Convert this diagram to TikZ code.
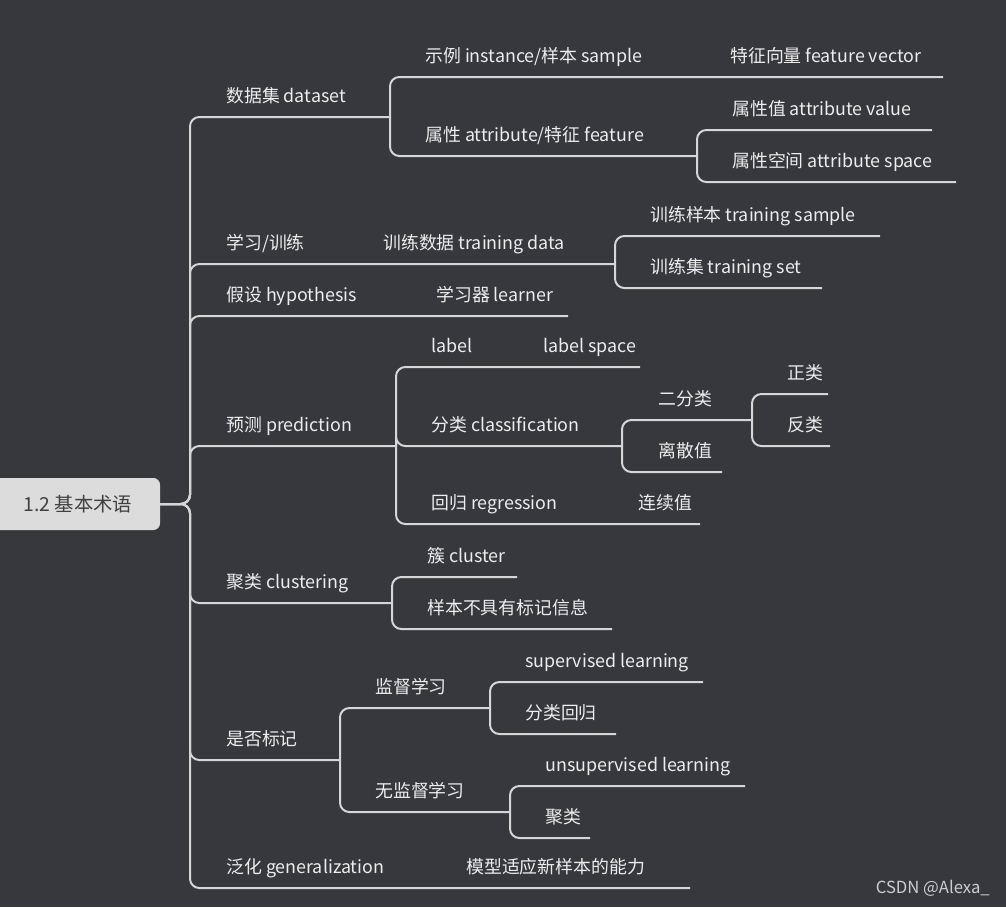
\documentclass[tikz,border=0pt]{standalone}
\usepackage{fontspec}
\setmainfont{Noto Sans CJK SC}
\begin{document}
\begin{tikzpicture}[x=0.75pt,y=-0.75pt,
  ln/.style={draw=lncol,line width=1.5pt,rounded corners=7pt},
  lb/.style={anchor=base west,inner sep=0pt,text=txtcol,font=\fontsize{13.4}{15}\selectfont}]
\definecolor{bgcol}{HTML}{37383D}
\definecolor{lncol}{HTML}{D6D6D6}
\definecolor{txtcol}{HTML}{EDEDED}
\definecolor{rootcol}{HTML}{DCDCDC}
\fill[bgcol] (0,0) rectangle (1006,907);
\useasboundingbox (0,0) rectangle (1006,907);
\newcommand{\br}[4]{\draw[ln] (#1,#2) -- (#1,#3) -- (#4,#3);}
\newcommand{\lbl}[4]{\node[lb] (#1) at (#2,#3-15) {#4};}
% root
\fill[rootcol,rounded corners=5pt] (-10,478) rectangle (160,530);
\node[anchor=center,text=black!75,font=\fontsize{14.5}{16}\selectfont] (root) at (78,504) {1.2 基本术语};
% trunk branches
\foreach \y/\e in {117/390,264/615,316/568,446/396,603/392,760/340,888/690}
  {\draw[ln] (160,504) -- (190,504) -- (190,\y) -- (\e,\y);}
% dataset
\br{390}{117}{77}{943}
\br{390}{117}{156}{697}
\br{697}{156}{130}{932}
\br{697}{156}{182}{956}
% learning
\br{615}{264}{236}{880}
\br{615}{264}{288}{822}
% prediction
\br{396}{446}{367}{640}
\br{396}{446}{446}{622}
\br{396}{446}{524}{700}
\br{622}{446}{420}{752}
\br{622}{446}{472}{722}
\br{752}{420}{394}{828}
\br{752}{420}{446}{830}
% clustering
\br{392}{603}{577}{517}
\br{392}{603}{629}{612}
% labeled
\br{340}{760}{708}{490}
\br{340}{760}{812}{510}
\br{490}{708}{682}{703}
\br{490}{708}{734}{616}
\br{510}{812}{786}{745}
\br{510}{812}{838}{590}
% labels
\lbl{a1}{226}{117}{数据集 dataset}
\lbl{a2}{425}{77}{示例 instance/样本 sample}
\lbl{a3}{730}{77}{特征向量 feature vector}
\lbl{a4}{425}{156}{属性 attribute/特征 feature}
\lbl{a5}{732}{130}{属性值 attribute value}
\lbl{a6}{732}{182}{属性空间 attribute space}
\lbl{b1}{226}{264}{学习/训练}
\lbl{b2}{383}{264}{训练数据 training data}
\lbl{b3}{650}{236}{训练样本 training sample}
\lbl{b4}{650}{288}{训练集 training set}
\lbl{c1}{226}{316}{假设 hypothesis}
\lbl{c2}{436}{316}{学习器 learner}
\lbl{d1}{226}{446}{预测 prediction}
\lbl{d2}{431}{367}{label}
\lbl{d3}{543}{367}{label space}
\lbl{d4}{431}{446}{分类 classification}
\lbl{d5}{658}{420}{二分类}
\lbl{d6}{787}{394}{正类}
\lbl{d7}{787}{446}{反类}
\lbl{d8}{658}{472}{离散值}
\lbl{d9}{431}{524}{回归 regression}
\lbl{d10}{638}{524}{连续值}
\lbl{e1}{226}{603}{聚类 clustering}
\lbl{e2}{427}{577}{簇 cluster}
\lbl{e3}{427}{629}{样本不具有标记信息}
\lbl{f1}{226}{760}{是否标记}
\lbl{f2}{375}{708}{监督学习}
\lbl{f3}{525}{682}{supervised learning}
\lbl{f4}{525}{734}{分类回归}
\lbl{f5}{375}{812}{无监督学习}
\lbl{f6}{545}{786}{unsupervised learning}
\lbl{f7}{545}{838}{聚类}
\lbl{g1}{226}{888}{泛化 generalization}
\lbl{g2}{466}{888}{模型适应新样本的能力}
\node[anchor=base east,inner sep=0pt,text=white!75!bgcol,font=\fontsize{12.5}{14}\selectfont] (wm) at (990,893) {CSDN @Alexa\_};
\end{tikzpicture}
\end{document}
